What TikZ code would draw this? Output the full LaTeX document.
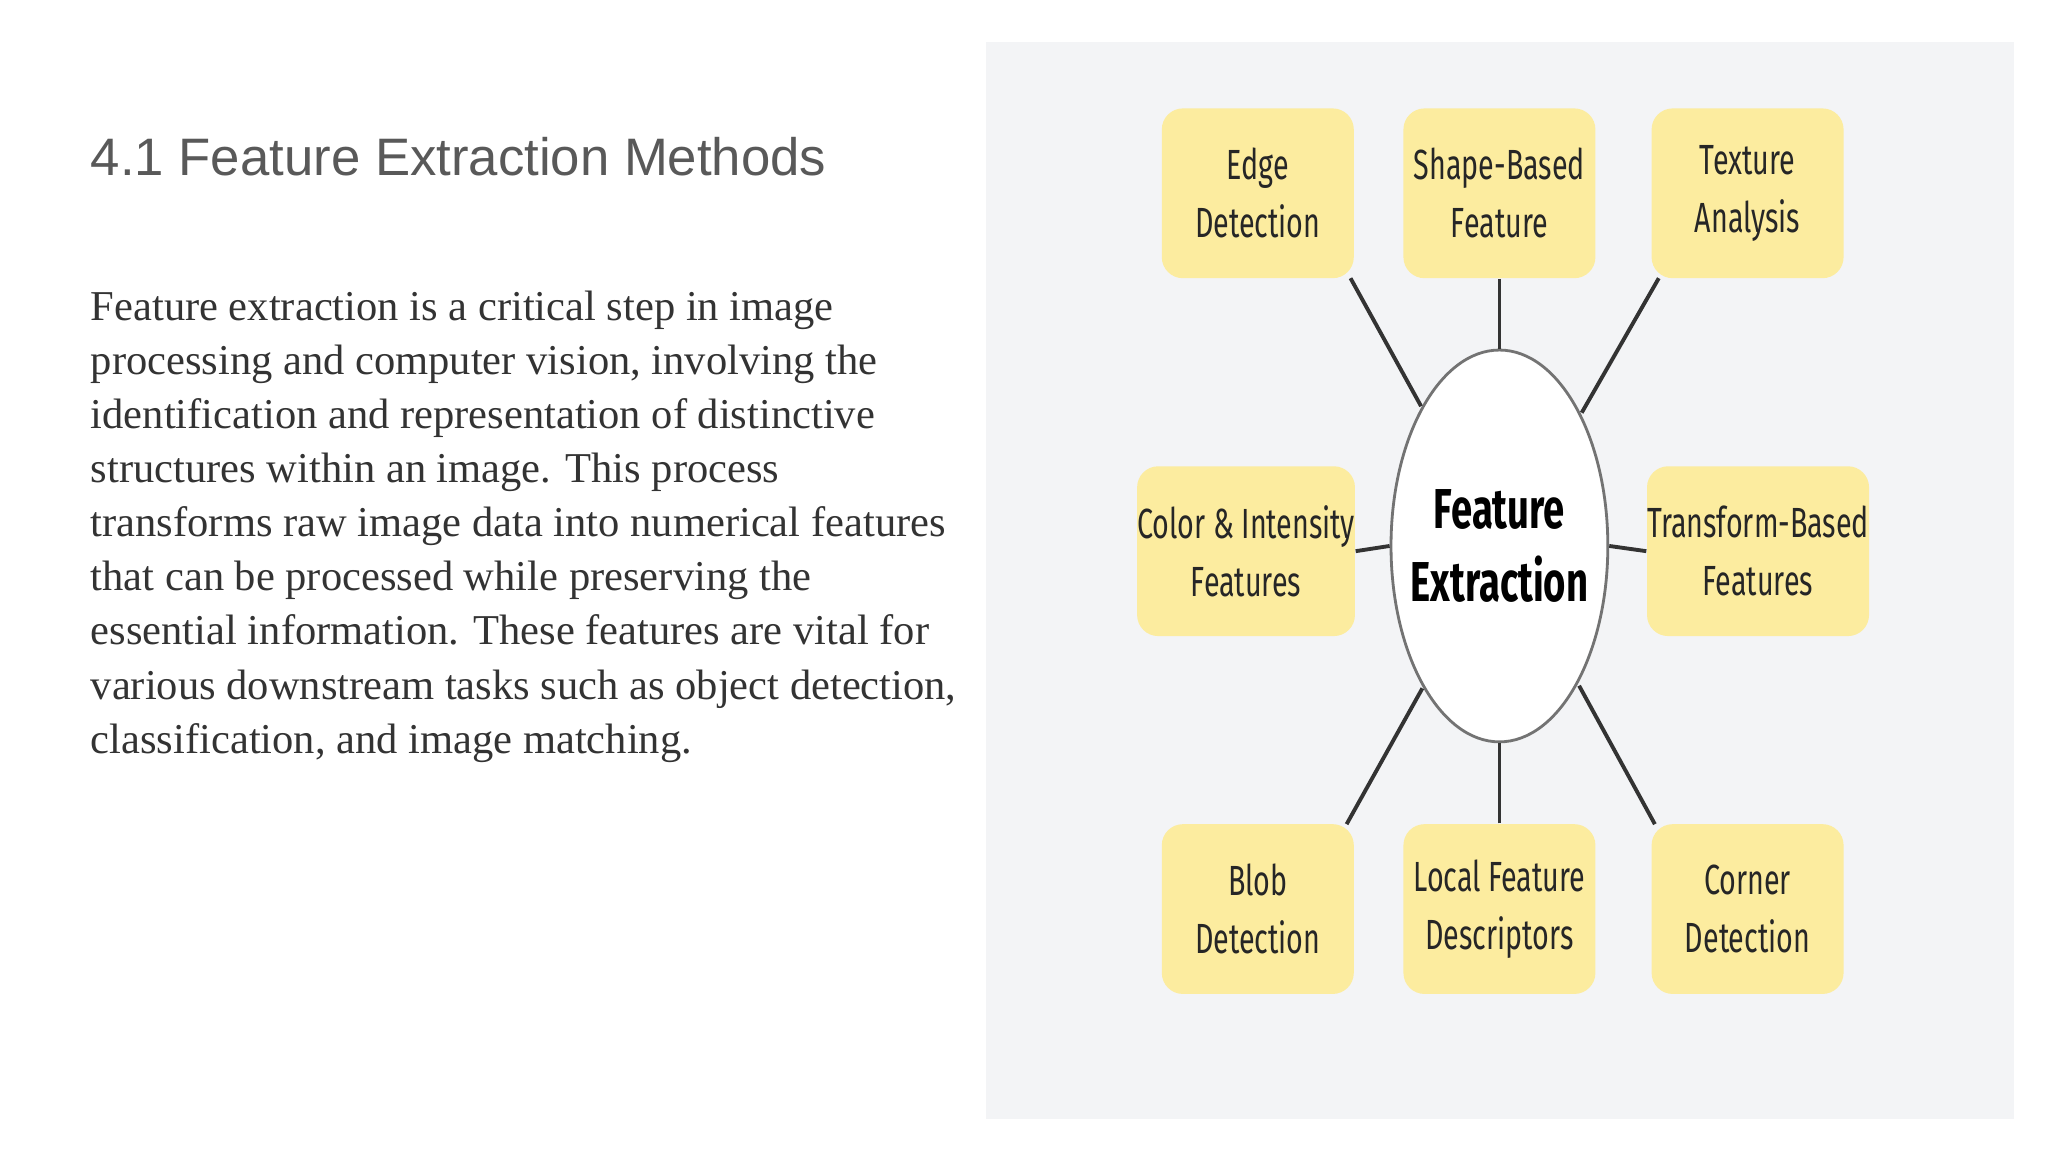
\documentclass[tikz,border=0pt]{standalone}
\usepackage{fontspec}
\setmainfont{Liberation Serif}
\newfontfamily\titlefont{Liberation Sans}
\newfontfamily\boxfont[FakeStretch=0.68]{Fira Sans}
\usetikzlibrary{shapes.geometric}
\definecolor{panel}{HTML}{F3F4F6}
\definecolor{boxy}{HTML}{FCEC9F}
\definecolor{txt}{HTML}{333333}
\definecolor{ttl}{HTML}{595959}
\tikzset{
  fbox/.style={fill=boxy, rounded corners=6pt, minimum height=130*0.013061cm, align=center, font=\boxfont\fontsize{12}{16.5}\selectfont, text=black!85, inner sep=0pt},
  link/.style={draw=black!80, line width=1.1pt}
}
\begin{document}
\begin{tikzpicture}[x=0.013061cm,y=-0.013061cm]
\useasboundingbox (0,0) rectangle (1568,882);
\fill[white] (0,0) rectangle (1568,882);
\node[anchor=base west, font=\titlefont\fontsize{15}{18}\selectfont, text=ttl, inner sep=0pt] (title) at (69,134) {4.1 Feature Extraction Methods};
\node[anchor=north west, align=left, font=\fontsize{12.1}{15.4}\selectfont, text=txt, inner sep=0pt] (para) at (69,222) {Feature extraction is a critical step in image\\
processing and computer vision, involving the\\
identification and representation of distinctive\\
structures within an image. This process\\
transforms raw image data into numerical features\\
that can be processed while preserving the\\
essential information. These features are vital for\\
various downstream tasks such as object detection,\\
classification, and image matching.};
\fill[panel] (755,32) rectangle (1542,857);
\node[ellipse, draw=black!55, line width=0.8pt, fill=white, minimum width=166*0.013061cm, minimum height=300*0.013061cm, inner sep=0pt] (c) at (1148,418) {};
\node[align=center, font=\boxfont\bfseries\fontsize{16}{21}\selectfont, inner sep=0pt] (ct) at (c.center) {Feature\\Extraction};
\node[fbox, minimum width=147*0.013061cm] (e) at (963,148) {Edge\\Detection};
\node[fbox, minimum width=147*0.013061cm] (s) at (1148,148) {Shape-Based\\Feature};
\node[fbox, minimum width=147*0.013061cm] (t) at (1338,148) {Texture\\Analysis};
\node[fbox, minimum width=166*0.013061cm] (ci) at (954,422) {Color \& Intensity\\Features};
\node[fbox, minimum width=168*0.013061cm] (tb) at (1346,422) {Transform-Based\\Features};
\node[fbox, minimum width=147*0.013061cm] (b) at (963,696) {Blob\\Detection};
\node[fbox, minimum width=147*0.013061cm] (l) at (1148,696) {Local Feature\\Descriptors};
\node[fbox, minimum width=147*0.013061cm] (co) at (1338,696) {Corner\\Detection};
\coordinate (e1) at (1034,213); \coordinate (e2) at (1088,311);
\draw[link] (e1) -- (e2);
\draw[link] (s.south) -- (c.north);
\coordinate (t1) at (1270,213); \coordinate (t2) at (1211,316);
\draw[link] (t1) -- (t2);
\draw[link] (ci.east) -- (c.west);
\draw[link] (tb.west) -- (c.east);
\coordinate (b1) at (1031,631); \coordinate (b2) at (1089,527);
\draw[link] (b1) -- (b2);
\draw[link] (l.north) -- (c.south);
\coordinate (o1) at (1267,631); \coordinate (o2) at (1209,525);
\draw[link] (o1) -- (o2);
\end{tikzpicture}
\end{document}
